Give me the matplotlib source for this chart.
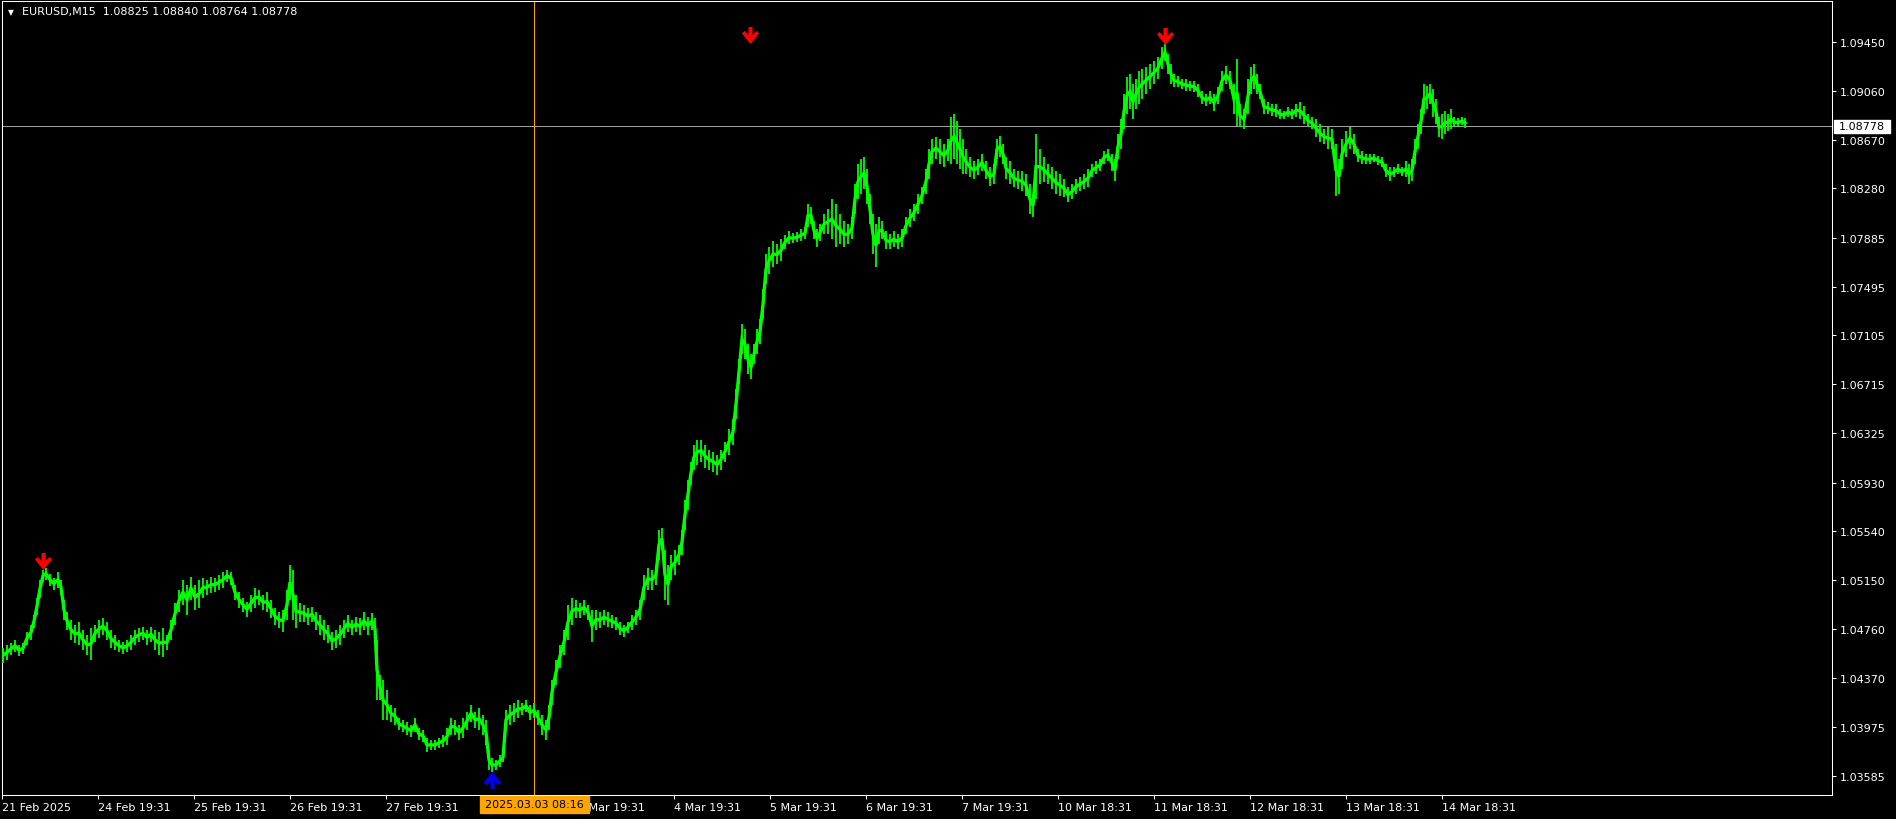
import numpy as np
import matplotlib
matplotlib.use("Agg")
import matplotlib.pyplot as plt
from matplotlib.path import Path
from matplotlib.patches import Rectangle
import matplotlib.transforms as mtransforms

# ---------------- data ----------------
symbol_text = "EURUSD,M15  1.08825 1.08840 1.08764 1.08778"
POINT = 1e-5  # prices below are given in points (1e-5)

bars = [1,5,9,13,17,21,25,29,32,35,38,41,44,48,52,56,59,62,65,69,73,77,81,85,89,93,97,101,105,109,113,117,121,125,129,133,137,141,145,149,153,157,161,165,169,173,177,181,185,189,193,197,201,205,209,213,217,221,225,229,233,237,241,245,249,253,257,261,265,269,273,277,281,285,288,291,294,298,302,306,310,314,318,322,326,330,334,338,342,346,350,354,358,362,366,370,373,375,378,381,385,389,393,397,401,405,409,413,417,421,425,429,433,437,441,445,449,453,457,461,465,469,473,477,481,484,487,490,494,498,501,504,508,512,516,520,524,528,532,536,540,544,547,550,554,558,
        562,566,570,574,578,582,586,590,594,598,602,606,610,614,618,622,626,630,634,638,642,646,650,654,657,660,663,666,669,673,677,680,683,686,689,692,695,699,703,707,711,715,719,723,727,731,734,737,740,743,746,749,752,755,758,761,764,767,771,775,779,783,787,791,795,799,803,806,809,812,815,818,822,826,830,834,838,842,846,850,853,856,859,862,865,868,871,874,877,880,884,888,892,896,900,904,908,912,916,920,924,927,930,934,938,942,946,949,952,955,958,961,964,968,972,976,980,
        984,988,992,995,998,1001,1004,1008,1012,1016,1020,1024,1028,1031,1034,1038,1042,1046,1050,1054,1058,1062,1066,1070,1074,1078,1082,1086,1090,1094,1098,1102,1106,1110,1113,1116,1119,1122,1125,1128,1131,1134,1137,1140,1144,1148,1152,1156,1160,1163,1166,1169,1172,1176,1180,1184,1188,1192,1196,1200,1204,1208,1212,1216,1220,1224,1228,1232,1235,1238,1242,1246,1249,1252,1255,1258,1262,1266,1270,1274,1278,1282,1286,1290,1294,1298,1302,1306,1310,1314,1318,1322,1326,1330,1334,1337,1340,1344,1348,1352,1356,1360,1364,1368,1372,1376,1380,1384,1388,1392,1396,1400,1404,1407,1410,1413,1416,1419,1422,1425,1428,1431,1434,1437,1440,1443,1446,1449,1452,1456,1460,1463]

high_points = [104610,104634,104650,104674,104634,104650,104738,104794,104874,105010,105154,105234,105250,105202,105170,105218,105154,104994,104898,104834,104794,104818,104754,104714,104770,104794,104834,104850,104818,104754,104714,104674,104658,104674,104714,104754,104770,104778,104754,104778,104754,104738,104770,104714,104834,104970,105074,105154,105114,105178,105114,105154,105170,105154,105178,105170,105194,105218,105234,105218,105114,105058,105010,104978,105034,105090,105074,105034,105058,104994,104930,104898,104914,105074,105274,105234,105034,104970,104954,104930,104938,104898,104874,104834,104794,104738,104754,104794,104834,104874,104834,104858,104850,104898,104858,104890,104850,104674,104394,104354,104274,104154,104130,104050,104034,104018,103994,104050,103970,103954,103890,103874,103874,103890,103914,103970,104050,104034,103994,104050,104098,104154,104098,104130,104074,104034,103794,103730,103714,103754,103770,104114,104154,104170,104194,104170,104194,104154,104170,104114,104074,104034,104154,104354,104514,104634,
               104754,104954,105010,104994,104970,104994,104954,104914,104914,104898,104914,104898,104874,104858,104818,104794,104818,104874,104914,104994,105194,105250,105234,105274,105554,105570,105394,105274,105354,105394,105434,105554,105794,105954,106098,106234,106274,106274,106234,106194,106178,106154,106194,106258,106354,106434,106674,106914,107194,107154,107034,106954,107034,107154,107234,107474,107754,107810,107858,107834,107874,107906,107938,107922,107930,107954,107970,108154,108130,108018,107954,107994,108074,108114,108194,108154,108074,108018,107994,108050,108314,108474,108514,108530,108434,108234,108074,107994,108050,108018,107938,107914,107938,107914,107954,108050,108114,108154,108234,108290,108434,108594,108674,108690,108674,108634,108674,108850,108874,108818,108754,108674,108594,108530,108498,108514,108554,
               108498,108450,108474,108674,108698,108634,108530,108498,108434,108418,108418,108394,108314,108234,108714,108594,108530,108474,108450,108418,108394,108354,108290,108314,108354,108370,108394,108434,108474,108498,108514,108578,108594,108554,108514,108714,108834,109034,109170,109194,109114,109154,109218,109234,109250,109274,109298,109330,109410,109434,109354,109274,109194,109178,109154,109154,109138,109138,109114,109058,109034,109058,109034,109090,109218,109258,109218,109114,109314,108954,108914,109154,109250,109274,109194,109114,108994,108970,108954,108954,108914,108898,108930,108914,108954,108970,108938,108874,108850,108834,108794,108754,108770,108754,108634,108514,108674,108738,108770,108714,108594,108578,108554,108554,108554,108538,108530,108474,108450,108450,108474,108450,108498,108474,108514,108674,108794,108914,109114,109098,109114,109074,108994,108850,108874,108898,108874,108914,108850,108842,108850,108840]

low_points = [104490,104514,104554,104578,104546,104562,104634,104674,104770,104874,105010,105138,105154,105106,105074,105090,105034,104834,104754,104674,104650,104634,104594,104554,104514,104658,104690,104714,104674,104610,104594,104578,104562,104578,104594,104634,104658,104674,104634,104658,104594,104554,104538,104594,104674,104794,104898,104954,104874,104994,104914,104930,105010,105034,105050,105058,105074,105090,105138,105114,104994,104930,104898,104858,104898,104930,104954,104914,104898,104850,104794,104770,104738,104834,104994,104834,104770,104818,104818,104794,104818,104754,104714,104674,104650,104594,104610,104634,104690,104738,104714,104738,104714,104754,104714,104754,104674,104194,104194,104034,104034,104018,103994,103954,103938,103914,103898,103938,103874,103858,103778,103794,103794,103810,103818,103834,103914,103914,103874,103890,103954,104018,103970,103954,103914,103834,103634,103618,103634,103658,103698,103954,103994,104018,104050,104074,104098,104034,104050,103994,103914,103874,103954,104154,104314,104450,
              104554,104674,104794,104850,104850,104874,104834,104658,104754,104770,104794,104778,104770,104754,104714,104698,104730,104754,104794,104834,104994,105074,105074,105114,105314,105394,104994,104954,105154,105194,105274,105354,105554,105714,105914,106034,106074,106098,106050,106034,106018,105994,106034,106098,106154,106234,106434,106714,106954,106914,106794,106754,106874,106954,107034,107234,107514,107594,107650,107674,107698,107794,107834,107842,107850,107858,107874,107970,107994,107874,107810,107858,107914,107914,107874,107810,107834,107810,107834,107874,108074,108194,108234,108274,108154,107994,107754,107650,107834,107874,107794,107794,107810,107794,107810,107914,107970,108018,108074,108154,108234,108354,108474,108514,108474,108450,108498,108474,108514,108474,108434,108394,108394,108370,108354,108386,108418,
              108354,108298,108314,108514,108530,108474,108354,108314,108290,108274,108258,108218,108074,108050,108194,108314,108330,108314,108274,108234,108218,108210,108170,108194,108234,108258,108274,108290,108370,108394,108418,108474,108498,108418,108338,108514,108594,108754,108874,108914,108834,108914,108954,108994,109034,109074,109114,109154,109234,109298,109194,109114,109090,109090,109074,109058,109058,109050,109010,108954,108938,108954,108898,108954,109058,109114,109074,108874,108778,108770,108754,108874,109034,109074,109034,108994,108874,108874,108858,108850,108834,108834,108850,108834,108850,108834,108794,108770,108754,108690,108650,108634,108594,108594,108218,108234,108434,108530,108594,108554,108490,108474,108474,108474,108490,108466,108450,108370,108338,108370,108394,108378,108370,108314,108338,108474,108594,108714,108874,108914,108954,108850,108794,108690,108674,108714,108738,108754,108770,108770,108786,108764]

price_ticks = [1.09450, 1.09060, 1.08670, 1.08280, 1.07885, 1.07495, 1.07105, 1.06715,
               1.06325, 1.05930, 1.05540, 1.05150, 1.04760, 1.04370, 1.03975, 1.03585]
time_tick_bars = [0, 96, 192, 288, 384, 480, 576, 672, 768, 864, 960, 1056, 1152, 1248, 1344, 1440]
time_tick_labels = ["21 Feb 2025", "24 Feb 19:31", "25 Feb 19:31", "26 Feb 19:31", "27 Feb 19:31",
                    "", "3 Mar 19:31", "4 Mar 19:31", "5 Mar 19:31", "6 Mar 19:31",
                    "7 Mar 19:31", "10 Mar 18:31", "11 Mar 18:31", "12 Mar 18:31", "13 Mar 18:31",
                    "14 Mar 18:31"]
last_close = 1.08778
cursor_bar = 532
cursor_label = "2025.03.03 08:16"
sell_arrow_bars = [41, 748, 1163]
sell_arrow_prices = [1.05307, 1.09502, 1.09498]
buy_arrow_bars = [490]
buy_arrow_prices = [1.03557]

assert len(bars) == len(high_points) == len(low_points), (len(bars), len(high_points), len(low_points))

x = np.array(bars)
hi = np.array(high_points) * POINT
lo = np.array(low_points) * POINT
mid = (hi + lo) / 2

# ---------------- figure ----------------
W, H, DPI = 1896, 820, 100
fig = plt.figure(figsize=(W / DPI, H / DPI), dpi=DPI, facecolor="black")
ax_l, ax_r, ax_t, ax_b = 2, 1832, 2, 796
ax = fig.add_axes([ax_l / W, (H - ax_b) / H, (ax_r - ax_l) / W, (ax_b - ax_t) / H])
ax.set_facecolor("black")

GREEN = "#00FF00"
# price bars: high-low range of each sampled bar, plus the path through their middles
ax.vlines(x, lo, hi, color=GREEN, linewidth=1.3, zorder=3)
ax.plot(x, mid, color=GREEN, linewidth=2.4, solid_joinstyle="miter", zorder=3)

ax.set_xlim(0, ax_r - ax_l)
ax.set_ylim(1.034336, 1.097776)

# lines
ax.axhline(last_close, color="#A0A0A0", linewidth=0.75, zorder=2)
ax.axvline(cursor_bar, color="#FFA500", linewidth=0.75, zorder=2)

# arrows
down_verts = [(-2, 8.5), (2, 8.5), (2, 0.5), (6, 4.5), (8.5, 2), (0, -8.5),
              (-8.5, 2), (-6, 4.5), (-2, 0.5), (-2, 8.5)]
down_path = Path(down_verts, closed=True)
up_path = Path([(vx, -vy) for vx, vy in down_verts], closed=True)
ax.plot(sell_arrow_bars, sell_arrow_prices, linestyle="none", marker=down_path,
        markersize=12.3, color="#FF0000", markeredgewidth=0, zorder=5)
ax.plot(buy_arrow_bars, buy_arrow_prices, linestyle="none", marker=up_path,
        markersize=12.3, color="#0000FF", markeredgewidth=0, zorder=5)

# spines and ticks
for s in ax.spines.values():
    s.set_color("white")
    s.set_linewidth(0.75)

ax.yaxis.tick_right()
ax.set_yticks(price_ticks)
ax.set_yticklabels([f"{p:.5f}" for p in price_ticks])
ax.set_xticks(time_tick_bars)
ax.set_xticklabels(time_tick_labels, ha="left")
ax.tick_params(axis="y", colors="white", length=3, width=0.75, pad=2.5, labelsize=8)
ax.tick_params(axis="x", colors="white", length=3, width=0.75, pad=2, labelsize=8)

# current price label on the price axis
blend_y = mtransforms.blended_transform_factory(ax.transAxes, ax.transData)
px_price = (1.097776 - 1.034336) / (ax_b - ax_t)
px_axes_x = 1.0 / (ax_r - ax_l)
box_h = 13 * px_price
ax.add_patch(Rectangle((1 + 2 * px_axes_x, last_close - box_h / 2), 56 * px_axes_x, box_h,
                       transform=blend_y, facecolor="white", edgecolor="white",
                       clip_on=False, zorder=6))
ax.text(1 + 30 * px_axes_x, last_close, f"{last_close:.5f}", transform=blend_y,
        ha="center", va="center", fontsize=8, color="black", clip_on=False, zorder=7)

# cursor time label on the time axis
blend_x = mtransforms.blended_transform_factory(ax.transData, ax.transAxes)
px_axes_y = 1.0 / (ax_b - ax_t)
ax.add_patch(Rectangle((cursor_bar - 54, -18 * px_axes_y), 109, 17 * px_axes_y,
                       transform=blend_x, facecolor="#FFA500", edgecolor="#FFA500",
                       clip_on=False, zorder=6))
ax.text(cursor_bar + 0.5, -9.5 * px_axes_y, cursor_label, transform=blend_x,
        ha="center", va="center", fontsize=8, color="black", clip_on=False, zorder=7)

# header
fig.text(10.5 / W, 1 - 12.5 / H, "\u25BC", color="white", fontsize=5.5, ha="center", va="center")
fig.text(22 / W, 1 - 12.5 / H, symbol_text, color="white", fontsize=8, ha="left", va="center")

fig.savefig("out.png", dpi=DPI, facecolor="black")
